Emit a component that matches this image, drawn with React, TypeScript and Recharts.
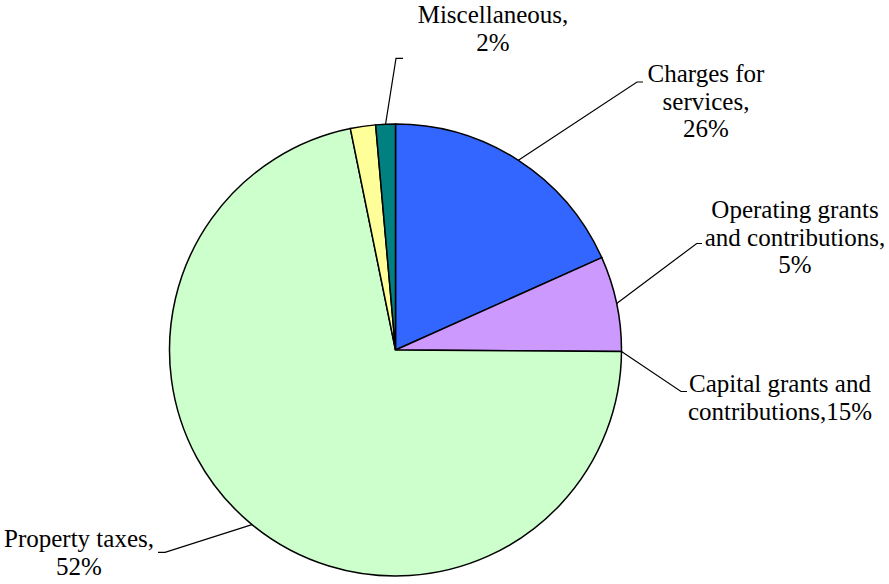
import React from "react";
import { PieChart, Pie, Cell } from "recharts";

const categories = [
  "Charges for services",
  "Operating grants and contributions",
  "Capital grants and contributions",
  "Property taxes",
  "Other",
  "Miscellaneous",
];
const values = [18.3, 6.8, 0, 71.7, 1.8, 1.4];
const labelTexts: string[][] = [
  ["Charges for", "services,", "26%"],
  ["Operating grants", "and contributions,", "5%"],
  ["Capital grants and", "contributions,15%"],
  ["Property taxes,", "52%"],
  [],
  ["Miscellaneous,", "2%"],
];

const colors = ["#3366FF", "#CC99FF", "#CC99FF", "#CCFFCC", "#FFFF99", "#008080"];

// label layout relative to pie centre: elbow (ex, ey), horizontal end x (hx), text centre x (tx), first baseline y (ty)
const CX = 395.5;
const CY = 350;
const labelLayout = [
  { ex: 241.5, ey: -268, hx: 247.5, tx: 310.5, ty: -268 },
  { ex: 301.2, ey: -106.5, hx: 306.5, tx: 399.5, ty: -132 },
  { ex: 285.5, ey: 41.5, hx: 291.5, tx: 384.5, ty: 42 },
  { ex: -230.5, ey: 202.3, hx: -237.5, tx: -316.5, ty: 197 },
  null,
  { ex: 0.5, ey: -291.7, hx: 7.5, tx: 97.5, ty: -327 },
];

const data = categories.map((name, i) => ({ name, value: values[i] }));

const RAD = Math.PI / 180;
const LINE_H = 27.5;

const renderLabel = (props: any) => {
  const { cx, cy, midAngle, outerRadius, index } = props;
  const lay = labelLayout[index];
  if (!lay) return null;
  const sx = cx + outerRadius * Math.cos(-midAngle * RAD);
  const sy = cy + outerRadius * Math.sin(-midAngle * RAD);
  const ex = cx + lay.ex;
  const ey = cy + lay.ey;
  const hx = cx + lay.hx;
  const lines = labelTexts[index];
  return (
    <g key={`lab-${index}`}>
      <polyline
        points={`${sx},${sy} ${ex},${ey} ${hx},${ey}`}
        fill="none"
        stroke="#000"
        strokeWidth={1.2}
      />
      <text
        x={cx + lay.tx}
        y={cy + lay.ty}
        textAnchor="middle"
        fontFamily="'Liberation Serif', 'Times New Roman', serif"
        fontSize={25}
        fill="#000"
      >
        {lines.map((t, k) => (
          <tspan key={k} x={cx + lay.tx} dy={k === 0 ? 0 : LINE_H}>
            {t}
          </tspan>
        ))}
      </text>
    </g>
  );
};

export default function App() {
  return (
    <div style={{ position: "absolute", left: 0, top: 0, background: "#fff" }}>
      <PieChart width={889} height={584} margin={{ top: 0, right: 0, bottom: 0, left: 0 }}>
        <Pie
          data={data}
          dataKey="value"
          nameKey="name"
          cx={CX}
          cy={CY}
          outerRadius={226}
          startAngle={90}
          endAngle={-270}
          stroke="#000"
          strokeWidth={1.5}
          label={renderLabel}
          labelLine={false}
          isAnimationActive={false}
        >
          {data.map((d, i) => (
            <Cell key={d.name} fill={colors[i]} stroke="#000" strokeWidth={1.5} />
          ))}
        </Pie>
      </PieChart>
    </div>
  );
}
